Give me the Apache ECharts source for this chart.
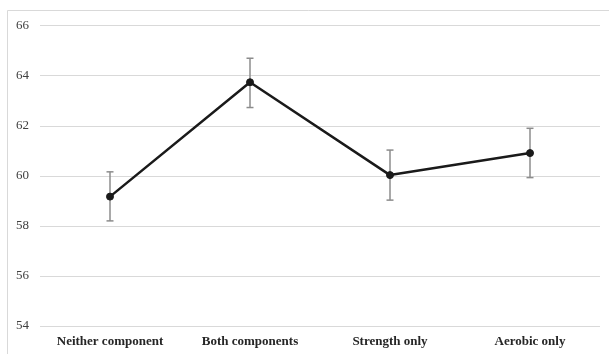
<!DOCTYPE html>
<html>
<head>
<meta charset="utf-8">
<script src="https://cdn.jsdelivr.net/npm/echarts@6/dist/echarts.min.js"></script>
<style>html,body{margin:0;padding:0;background:#fff}#c{width:609px;height:354px}</style>
</head>
<body>
<div id="c"></div>
<script>
const categories = ['Neither component', 'Both components', 'Strength only', 'Aerobic only'];
const means = [59.17, 63.74, 60.03, 60.91];
const lower = [58.2, 62.73, 59.03, 59.93];
const upper = [60.16, 64.7, 61.03, 61.9];
const yTicks = [54, 56, 58, 60, 62, 64, 66];

const chart = echarts.init(document.getElementById('c'));
const errData = categories.map((c, i) => [i, lower[i], upper[i]]);
chart.setOption({
  animation: false,
  backgroundColor: '#fff',
  graphic: [{
    type: 'rect', shape: { x: 7.5, y: 10.5, width: 700, height: 500 },
    style: { fill: 'none', stroke: '#d9d9d9', lineWidth: 1 }, silent: true, z: -1
  }],
  grid: { left: 40, right: 9, top: 25.7, bottom: 28 },
  xAxis: {
    type: 'category', data: categories,
    axisLine: { show: false }, axisTick: { show: false },
    axisLabel: { fontFamily: 'Liberation Serif', fontWeight: 'bold', fontSize: 13, color: '#262626', margin: 9 }
  },
  yAxis: {
    type: 'value', min: yTicks[0], max: yTicks[yTicks.length - 1], interval: 2,
    axisLine: { show: false }, axisTick: { show: false },
    splitLine: { lineStyle: { color: '#d9d9d9', width: 1 } },
    axisLabel: { fontFamily: 'Liberation Serif', fontSize: 13, color: '#404040', margin: 11 }
  },
  series: [{
    type: 'custom',
    data: errData,
    z: 1,
    renderItem: function (params, api) {
      const x = api.value(0);
      const lo = api.coord([x, api.value(1)]);
      const hi = api.coord([x, api.value(2)]);
      const w = 3.5;
      const st = { stroke: '#8c8c8c', lineWidth: 1.5 };
      return { type: 'group', children: [
        { type: 'line', shape: { x1: lo[0], y1: lo[1], x2: hi[0], y2: hi[1] }, style: st },
        { type: 'line', shape: { x1: lo[0] - w, y1: lo[1], x2: lo[0] + w, y2: lo[1] }, style: st },
        { type: 'line', shape: { x1: hi[0] - w, y1: hi[1], x2: hi[0] + w, y2: hi[1] }, style: st }
      ]};
    }
  }, {
    type: 'line', data: means, z: 3,
    symbol: 'circle', symbolSize: 7,
    lineStyle: { color: '#1a1a1a', width: 2.5 },
    itemStyle: { color: '#1a1a1a', borderColor: '#1a1a1a' }
  }]
});
</script>
</body>
</html>
